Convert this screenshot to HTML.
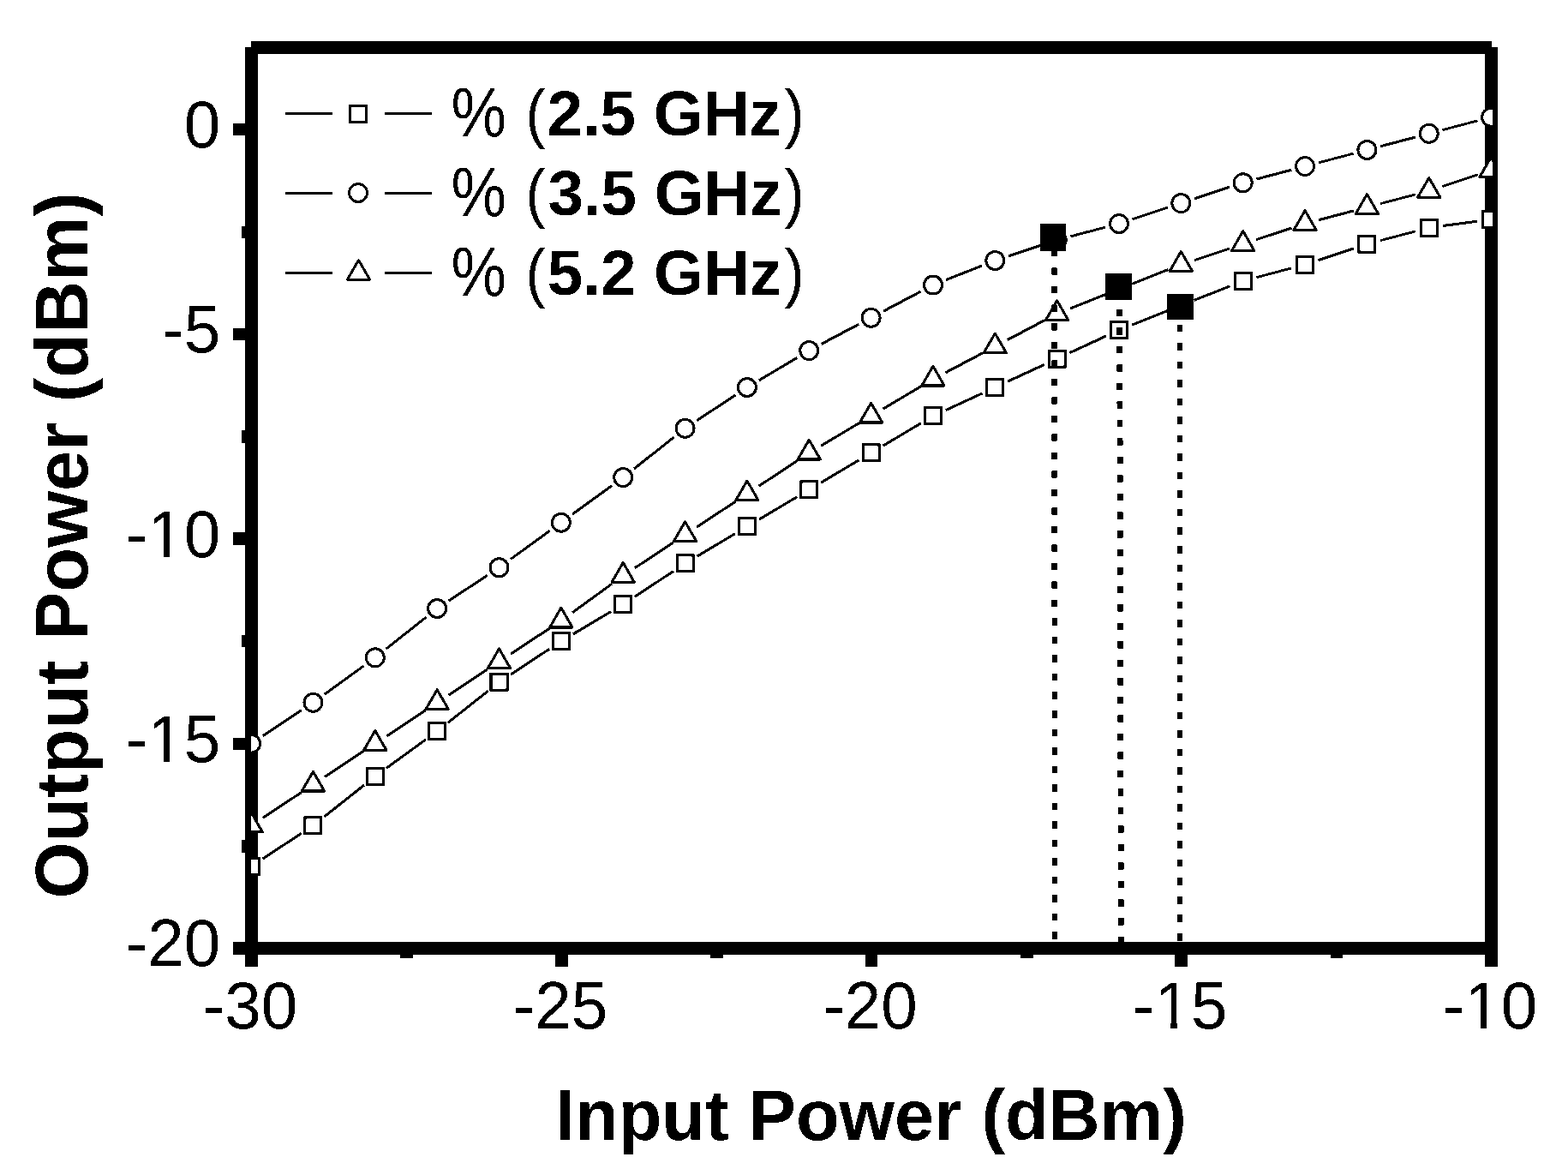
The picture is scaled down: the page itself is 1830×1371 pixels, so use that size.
<!DOCTYPE html>
<html lang="en">
<head>
<meta charset="utf-8">
<title>Output Power vs Input Power</title>
<style>
html,body{margin:0;padding:0;background:#fff;}
body{width:1830px;height:1371px;overflow:hidden;}
svg{display:block;}
.t{font-family:"Liberation Sans",sans-serif;fill:#000;}
</style>
</head>
<body>
<svg width="1830" height="1371" viewBox="0 0 1830 1371">
<defs><clipPath id="plot"><rect x="293" y="55" width="1449" height="1052"/></clipPath><filter id="mono" x="0" y="0" width="100%" height="100%" filterUnits="userSpaceOnUse" color-interpolation-filters="sRGB"><feComponentTransfer><feFuncR type="discrete" tableValues="0 1"/><feFuncG type="discrete" tableValues="0 1"/><feFuncB type="discrete" tableValues="0 1"/></feComponentTransfer></filter></defs>
<g filter="url(#mono)">
<rect x="0" y="0" width="1830" height="1371" fill="#fff"/>
<g id="frame" fill="#000" shape-rendering="crispEdges">
<rect x="293" y="48" width="1448" height="15"/>
<rect x="286" y="55" width="15" height="1073"/>
<rect x="1733" y="55" width="15" height="1073"/>
<rect x="272" y="1099" width="1469" height="15"/>
<rect x="272" y="144" width="18" height="14"/>
<rect x="272" y="383" width="18" height="14"/>
<rect x="272" y="621" width="18" height="15"/>
<rect x="272" y="861" width="18" height="14"/>
<rect x="282" y="264" width="8" height="14"/>
<rect x="282" y="502" width="8" height="15"/>
<rect x="282" y="741" width="8" height="14"/>
<rect x="282" y="980" width="8" height="15"/>
<rect x="648" y="1110" width="15" height="18"/>
<rect x="1010" y="1110" width="14" height="18"/>
<rect x="1371" y="1110" width="15" height="18"/>
<rect x="467" y="1110" width="15" height="8"/>
<rect x="829" y="1110" width="15" height="8"/>
<rect x="1191" y="1110" width="15" height="8"/>
<rect x="1553" y="1110" width="14" height="8"/>
</g>
<g id="s25" clip-path="url(#plot)">
<g stroke="#000" stroke-width="3.0" fill="none">
<line x1="306.70" y1="1001.97" x2="351.85" y2="972.16"/>
<line x1="378.23" y1="953.06" x2="425.02" y2="915.98"/>
<line x1="450.99" y1="896.28" x2="496.96" y2="862.88"/>
<line x1="522.93" y1="843.18" x2="569.72" y2="806.10"/>
<line x1="596.10" y1="787.00" x2="641.25" y2="757.19"/>
<line x1="668.86" y1="739.88" x2="713.19" y2="713.54"/>
<line x1="740.80" y1="696.23" x2="785.95" y2="666.42"/>
<line x1="813.56" y1="649.11" x2="857.89" y2="622.77"/>
<line x1="885.91" y1="606.11" x2="930.24" y2="579.77"/>
<line x1="958.26" y1="563.12" x2="1002.59" y2="536.78"/>
<line x1="1030.61" y1="520.12" x2="1074.94" y2="493.78"/>
<line x1="1103.75" y1="478.62" x2="1146.50" y2="458.85"/>
<line x1="1176.10" y1="445.17" x2="1218.85" y2="425.41"/>
<line x1="1248.45" y1="411.73" x2="1291.20" y2="391.97"/>
<line x1="1321.15" y1="379.13" x2="1363.20" y2="362.47"/>
<line x1="1393.50" y1="350.46" x2="1435.55" y2="333.81"/>
<line x1="1466.46" y1="323.64" x2="1507.29" y2="312.86"/>
<line x1="1538.53" y1="303.59" x2="1579.92" y2="289.92"/>
<line x1="1611.16" y1="280.65" x2="1651.99" y2="269.86"/>
<line x1="1683.91" y1="263.57" x2="1723.94" y2="258.28"/>
</g>
<g stroke="#000" stroke-width="3.0" fill="#fff">
<rect x="283.60" y="1001.45" width="19.0" height="19.0"/>
<rect x="355.95" y="953.68" width="19.0" height="19.0"/>
<rect x="428.30" y="896.35" width="19.0" height="19.0"/>
<rect x="500.65" y="843.80" width="19.0" height="19.0"/>
<rect x="573.00" y="786.48" width="19.0" height="19.0"/>
<rect x="645.35" y="738.70" width="19.0" height="19.0"/>
<rect x="717.70" y="695.71" width="19.0" height="19.0"/>
<rect x="790.05" y="647.94" width="19.0" height="19.0"/>
<rect x="862.40" y="604.94" width="19.0" height="19.0"/>
<rect x="934.75" y="561.95" width="19.0" height="19.0"/>
<rect x="1007.10" y="518.95" width="19.0" height="19.0"/>
<rect x="1079.45" y="475.95" width="19.0" height="19.0"/>
<rect x="1151.80" y="442.51" width="19.0" height="19.0"/>
<rect x="1224.15" y="409.07" width="19.0" height="19.0"/>
<rect x="1296.50" y="375.63" width="19.0" height="19.0"/>
<rect x="1368.85" y="346.97" width="19.0" height="19.0"/>
<rect x="1441.20" y="318.30" width="19.0" height="19.0"/>
<rect x="1513.55" y="299.20" width="19.0" height="19.0"/>
<rect x="1585.90" y="275.31" width="19.0" height="19.0"/>
<rect x="1658.25" y="256.20" width="19.0" height="19.0"/>
<rect x="1730.60" y="246.65" width="19.0" height="19.0"/>
</g></g>
<g id="s35" clip-path="url(#plot)">
<g stroke="#000" stroke-width="3.0" fill="none">
<line x1="306.70" y1="858.65" x2="351.85" y2="828.85"/>
<line x1="378.64" y1="810.28" x2="424.61" y2="776.89"/>
<line x1="450.58" y1="757.19" x2="497.37" y2="720.11"/>
<line x1="523.75" y1="701.00" x2="568.90" y2="671.20"/>
<line x1="595.69" y1="652.63" x2="641.66" y2="619.24"/>
<line x1="668.04" y1="600.08" x2="714.01" y2="566.69"/>
<line x1="739.98" y1="546.99" x2="786.77" y2="509.91"/>
<line x1="813.15" y1="490.80" x2="858.30" y2="461.00"/>
<line x1="885.91" y1="443.69" x2="930.24" y2="417.35"/>
<line x1="958.66" y1="401.40" x2="1002.19" y2="378.41"/>
<line x1="1031.01" y1="363.19" x2="1074.54" y2="340.20"/>
<line x1="1104.10" y1="326.58" x2="1146.15" y2="309.92"/>
<line x1="1176.78" y1="298.81" x2="1218.17" y2="285.14"/>
<line x1="1249.41" y1="275.87" x2="1290.24" y2="265.09"/>
<line x1="1321.48" y1="255.81" x2="1362.87" y2="242.15"/>
<line x1="1393.83" y1="231.93" x2="1435.22" y2="218.26"/>
<line x1="1466.46" y1="208.99" x2="1507.29" y2="198.20"/>
<line x1="1538.81" y1="189.88" x2="1579.64" y2="179.09"/>
<line x1="1611.16" y1="170.77" x2="1651.99" y2="159.99"/>
<line x1="1683.51" y1="151.66" x2="1724.34" y2="140.88"/>
</g>
<g stroke="#000" stroke-width="3.0" fill="#fff">
<circle cx="293.10" cy="867.64" r="10.5"/>
<circle cx="365.45" cy="819.86" r="10.5"/>
<circle cx="437.80" cy="767.31" r="10.5"/>
<circle cx="510.15" cy="709.99" r="10.5"/>
<circle cx="582.50" cy="662.21" r="10.5"/>
<circle cx="654.85" cy="609.66" r="10.5"/>
<circle cx="727.20" cy="557.11" r="10.5"/>
<circle cx="799.55" cy="499.79" r="10.5"/>
<circle cx="871.90" cy="452.01" r="10.5"/>
<circle cx="944.25" cy="409.02" r="10.5"/>
<circle cx="1016.60" cy="370.80" r="10.5"/>
<circle cx="1088.95" cy="332.58" r="10.5"/>
<circle cx="1161.30" cy="303.92" r="10.5"/>
<circle cx="1233.65" cy="280.03" r="10.5"/>
<circle cx="1306.00" cy="260.92" r="10.5"/>
<circle cx="1378.35" cy="237.04" r="10.5"/>
<circle cx="1450.70" cy="213.15" r="10.5"/>
<circle cx="1523.05" cy="194.04" r="10.5"/>
<circle cx="1595.40" cy="174.93" r="10.5"/>
<circle cx="1667.75" cy="155.82" r="10.5"/>
<circle cx="1740.10" cy="136.71" r="10.5"/>
</g></g>
<g id="s52" clip-path="url(#plot)">
<g stroke="#000" stroke-width="3.0" fill="none">
<line x1="306.70" y1="954.20" x2="351.85" y2="924.39"/>
<line x1="379.05" y1="906.43" x2="424.20" y2="876.62"/>
<line x1="451.40" y1="858.65" x2="496.55" y2="828.85"/>
<line x1="523.75" y1="810.88" x2="568.90" y2="781.07"/>
<line x1="596.10" y1="763.11" x2="641.25" y2="733.30"/>
<line x1="668.04" y1="714.74" x2="714.01" y2="681.35"/>
<line x1="740.80" y1="662.79" x2="785.95" y2="632.98"/>
<line x1="813.15" y1="615.01" x2="858.30" y2="585.20"/>
<line x1="885.50" y1="567.24" x2="930.65" y2="537.43"/>
<line x1="958.26" y1="520.12" x2="1002.59" y2="493.78"/>
<line x1="1030.61" y1="477.13" x2="1074.94" y2="450.79"/>
<line x1="1103.36" y1="434.85" x2="1146.89" y2="411.85"/>
<line x1="1175.71" y1="396.63" x2="1219.24" y2="373.64"/>
<line x1="1248.80" y1="360.02" x2="1290.85" y2="343.36"/>
<line x1="1321.15" y1="331.36" x2="1363.20" y2="314.70"/>
<line x1="1393.83" y1="303.59" x2="1435.22" y2="289.92"/>
<line x1="1466.18" y1="279.70" x2="1507.57" y2="266.03"/>
<line x1="1538.81" y1="256.76" x2="1579.64" y2="245.98"/>
<line x1="1611.16" y1="237.65" x2="1651.99" y2="226.87"/>
<line x1="1683.23" y1="217.59" x2="1724.62" y2="203.93"/>
</g>
<g stroke="#000" stroke-width="3.0" fill="#fff">
<path stroke-linejoin="round" d="M293.10 947.98L306.26 970.78L279.94 970.78Z"/>
<path stroke-linejoin="round" d="M365.45 900.21L378.61 923.01L352.29 923.01Z"/>
<path stroke-linejoin="round" d="M437.80 852.44L450.96 875.24L424.64 875.24Z"/>
<path stroke-linejoin="round" d="M510.15 804.66L523.31 827.46L496.99 827.46Z"/>
<path stroke-linejoin="round" d="M582.50 756.89L595.66 779.69L569.34 779.69Z"/>
<path stroke-linejoin="round" d="M654.85 709.12L668.01 731.92L641.69 731.92Z"/>
<path stroke-linejoin="round" d="M727.20 656.57L740.36 679.37L714.04 679.37Z"/>
<path stroke-linejoin="round" d="M799.55 608.80L812.71 631.60L786.39 631.60Z"/>
<path stroke-linejoin="round" d="M871.90 561.02L885.06 583.82L858.74 583.82Z"/>
<path stroke-linejoin="round" d="M944.25 513.25L957.41 536.05L931.09 536.05Z"/>
<path stroke-linejoin="round" d="M1016.60 470.25L1029.76 493.05L1003.44 493.05Z"/>
<path stroke-linejoin="round" d="M1088.95 427.26L1102.11 450.06L1075.79 450.06Z"/>
<path stroke-linejoin="round" d="M1161.30 389.04L1174.46 411.84L1148.14 411.84Z"/>
<path stroke-linejoin="round" d="M1233.65 350.82L1246.81 373.62L1220.49 373.62Z"/>
<path stroke-linejoin="round" d="M1306.00 322.16L1319.16 344.96L1292.84 344.96Z"/>
<path stroke-linejoin="round" d="M1378.35 293.50L1391.51 316.30L1365.19 316.30Z"/>
<path stroke-linejoin="round" d="M1450.70 269.61L1463.86 292.41L1437.54 292.41Z"/>
<path stroke-linejoin="round" d="M1523.05 245.72L1536.21 268.52L1509.89 268.52Z"/>
<path stroke-linejoin="round" d="M1595.40 226.61L1608.56 249.41L1582.24 249.41Z"/>
<path stroke-linejoin="round" d="M1667.75 207.50L1680.91 230.30L1654.59 230.30Z"/>
<path stroke-linejoin="round" d="M1740.10 183.62L1753.26 206.42L1726.94 206.42Z"/>
</g></g>
<g id="p1db" fill="#000" shape-rendering="crispEdges">
<rect x="1214.00" y="261.00" width="30" height="32"/>
<rect x="1290.00" y="319.00" width="31" height="31"/>
<rect x="1362.00" y="343.00" width="31" height="30"/>
</g>
<line x1="1230.6" y1="291.00" x2="1230.9" y2="1100" stroke="#000" stroke-width="6.5" stroke-dasharray="8.3 13.225"/>
<line x1="1306.7" y1="360.80" x2="1308.4" y2="1100" stroke="#000" stroke-width="6.9" stroke-dasharray="8.3 13.225"/>
<line x1="1377.0" y1="378.80" x2="1377.0" y2="1100" stroke="#000" stroke-width="6.0" stroke-dasharray="8.3 13.225"/>
<g id="legend">
<g stroke="#000" stroke-width="3" fill="none"><line x1="333" y1="132.5" x2="388" y2="132.5"/><line x1="449" y1="132.5" x2="504" y2="132.5"/></g>
<g stroke="#000" stroke-width="3.0" fill="#fff"><rect x="408.50" y="123.50" width="19.0" height="19.0"/></g>
<text class="t" font-size="76.4" x="526.4" y="158.1" xml:space="preserve"><tspan font-size="82.1" y="159.7" textLength="64.45" lengthAdjust="spacingAndGlyphs">%</tspan><tspan x="592" y="158.1"> </tspan><tspan x="613.5" y="158.1" textLength="23.13" lengthAdjust="spacingAndGlyphs">(</tspan><tspan font-weight="bold" font-size="74.5" x="638.49" y="157.9">2.5 GHz</tspan><tspan x="915.4" y="158.1" textLength="23.13" lengthAdjust="spacingAndGlyphs">)</tspan></text>
<g stroke="#000" stroke-width="3" fill="none"><line x1="333" y1="225.5" x2="388" y2="225.5"/><line x1="449" y1="225.5" x2="504" y2="225.5"/></g>
<g stroke="#000" stroke-width="3.0" fill="#fff"><circle cx="418.00" cy="225.00" r="10.5"/></g>
<text class="t" font-size="76.4" x="526.4" y="251.1" xml:space="preserve"><tspan font-size="82.1" y="252.7" textLength="64.45" lengthAdjust="spacingAndGlyphs">%</tspan><tspan x="592" y="251.1"> </tspan><tspan x="613.5" y="251.1" textLength="23.13" lengthAdjust="spacingAndGlyphs">(</tspan><tspan font-weight="bold" font-size="74.5" x="639.39" y="250.9">3.5 GHz</tspan><tspan x="915.4" y="251.1" textLength="23.13" lengthAdjust="spacingAndGlyphs">)</tspan></text>
<g stroke="#000" stroke-width="3" fill="none"><line x1="333" y1="318.5" x2="388" y2="318.5"/><line x1="449" y1="318.5" x2="504" y2="318.5"/></g>
<g stroke="#000" stroke-width="3.0" fill="#fff"><path stroke-linejoin="round" d="M418.50 303.50L431.66 326.30L405.34 326.30Z"/></g>
<text class="t" font-size="76.4" x="526.4" y="344.1" xml:space="preserve"><tspan font-size="82.1" y="345.7" textLength="64.45" lengthAdjust="spacingAndGlyphs">%</tspan><tspan x="592" y="344.1"> </tspan><tspan x="613.5" y="344.1" textLength="23.13" lengthAdjust="spacingAndGlyphs">(</tspan><tspan font-weight="bold" font-size="74.5" x="638.79" y="343.9">5.2 GHz</tspan><tspan x="915.4" y="344.1" textLength="23.13" lengthAdjust="spacingAndGlyphs">)</tspan></text>
</g>
<g id="ylabels">
<text class="t" font-size="76.4" text-anchor="end" transform="translate(257.2 171.9) scale(1 1.02)">0</text>
<text class="t" font-size="76.4" text-anchor="end" transform="translate(257.2 410.8) scale(1 1.02)">-5</text>
<text class="t" font-size="76.4" text-anchor="end" transform="translate(257.2 649.7) scale(1 1.02)">-10</text>
<rect x="176.06" y="642.27" width="14.75" height="9.40" fill="#fff"/><rect x="198.37" y="642.27" width="15.13" height="9.40" fill="#fff"/>
<text class="t" font-size="76.4" text-anchor="end" transform="translate(257.2 888.5) scale(1 1.02)">-15</text>
<rect x="176.06" y="881.13" width="14.75" height="9.40" fill="#fff"/><rect x="198.37" y="881.13" width="15.13" height="9.40" fill="#fff"/>
<text class="t" font-size="76.4" text-anchor="end" transform="translate(257.2 1127.4) scale(1 1.02)">-20</text>
</g>
<g id="xlabels">
<text class="t" font-size="76.4" text-anchor="middle" transform="translate(292.1 1200.3) scale(1 1.02)">-30</text>
<text class="t" font-size="76.4" text-anchor="middle" transform="translate(653.9 1200.3) scale(1 1.02)">-25</text>
<text class="t" font-size="76.4" text-anchor="middle" transform="translate(1015.6 1200.3) scale(1 1.02)">-20</text>
<text class="t" font-size="76.4" text-anchor="middle" transform="translate(1377.3 1200.3) scale(1 1.02)">-15</text>
<rect x="1351.41" y="1192.90" width="14.75" height="9.40" fill="#fff"/><rect x="1373.72" y="1192.90" width="15.13" height="9.40" fill="#fff"/>
<text class="t" font-size="76.4" text-anchor="middle" transform="translate(1739.1 1200.3) scale(1 1.02)">-10</text>
<rect x="1713.16" y="1192.90" width="14.75" height="9.40" fill="#fff"/><rect x="1735.47" y="1192.90" width="15.13" height="9.40" fill="#fff"/>
</g>
<text class="t" font-size="82.92" font-weight="bold" transform="translate(648.04 1330.1) scale(1 1.0)">Input Power (dBm)</text>
<text class="t" font-size="84.79" font-weight="bold" transform="translate(102.1 1048.48) rotate(-90) scale(1 1.02)">Output Power (dBm)</text>
</g>
</svg>
</body>
</html>
